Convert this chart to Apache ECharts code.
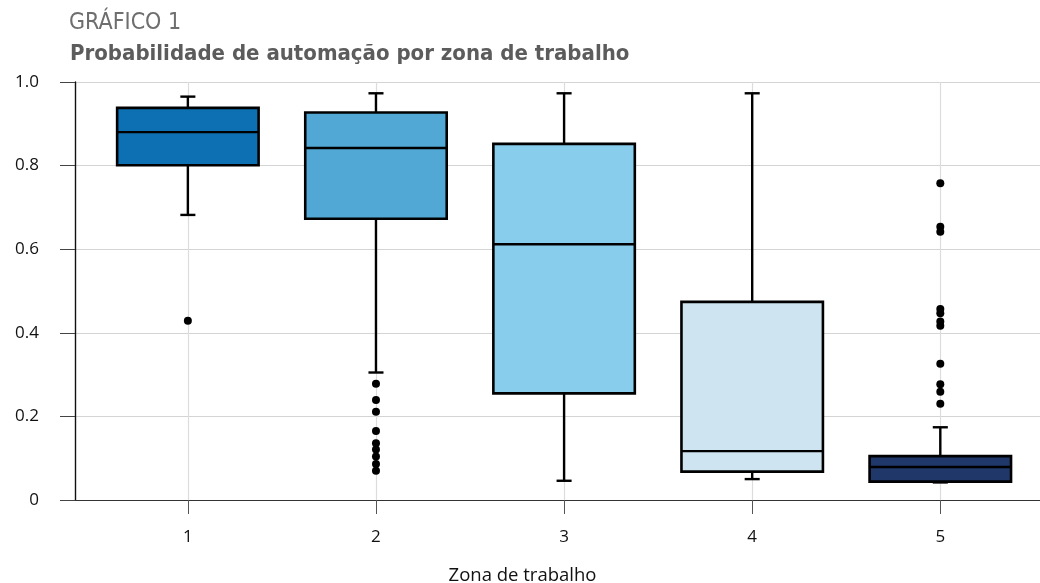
<!DOCTYPE html>
<html>
<head>
<meta charset="utf-8">
<script src="https://cdn.jsdelivr.net/npm/echarts@6/dist/echarts.min.js"></script>
<style>html,body{margin:0;padding:0;background:#fff}#c{width:1040px;height:583px}</style>
</head>
<body>
<div id="c"></div>
<script>
const zones = [1, 2, 3, 4, 5];
const zoneLabels = ['1', '2', '3', '4', '5'];
const lowWhisker = [0.682, 0.305, 0.046, 0.050, 0.042];
const q1 = [0.801, 0.673, 0.255, 0.068, 0.044];
const median = [0.880, 0.842, 0.612, 0.117, 0.079];
const q3 = [0.938, 0.927, 0.852, 0.474, 0.105];
const highWhisker = [0.965, 0.973, 0.973, 0.973, 0.174];
const outliersZone1 = [0.429];
const outliersZone2 = [0.278, 0.239, 0.211, 0.165, 0.136, 0.121, 0.104, 0.086, 0.070];
const outliersZone5 = [0.758, 0.654, 0.642, 0.457, 0.447, 0.427, 0.417, 0.326, 0.277, 0.259, 0.230];
const yTicks = [0, 0.2, 0.4, 0.6, 0.8, 1.0];
const boxColors = ['#0d70b2', '#51a8d5', '#88cdeb', '#cee4f0', '#1f3769'];

const boxData = zones.map((z, i) => [z, lowWhisker[i], q1[i], median[i], q3[i], highWhisker[i]]);
const outlierData = []
  .concat(outliersZone1.map(v => [1, v]))
  .concat(outliersZone2.map(v => [2, v]))
  .concat(outliersZone5.map(v => [5, v]));

function renderBox(params, api) {
  const x = api.value(0);
  const pLow = api.coord([x, api.value(1)]);
  const pQ1 = api.coord([x, api.value(2)]);
  const pMed = api.coord([x, api.value(3)]);
  const pQ3 = api.coord([x, api.value(4)]);
  const pHigh = api.coord([x, api.value(5)]);
  const bw = api.size([0.752, 0])[0];
  const cw = api.size([0.08, 0])[0];
  const cx = pMed[0];
  const lineStyle = { stroke: '#000', lineWidth: 2.4, fill: null };
  return {
    type: 'group',
    children: [
      { type: 'line', shape: { x1: cx, y1: pHigh[1], x2: cx, y2: pQ3[1] }, style: lineStyle },
      { type: 'line', shape: { x1: cx, y1: pLow[1], x2: cx, y2: pQ1[1] }, style: lineStyle },
      { type: 'line', shape: { x1: cx - cw / 2, y1: pHigh[1], x2: cx + cw / 2, y2: pHigh[1] }, style: lineStyle },
      { type: 'line', shape: { x1: cx - cw / 2, y1: pLow[1], x2: cx + cw / 2, y2: pLow[1] }, style: lineStyle },
      { type: 'rect', shape: { x: cx - bw / 2, y: pQ3[1], width: bw, height: pQ1[1] - pQ3[1] },
        style: { fill: boxColors[params.dataIndex], stroke: '#000', lineWidth: 2.6 } },
      { type: 'line', shape: { x1: cx - bw / 2, y1: pMed[1], x2: cx + bw / 2, y2: pMed[1] }, style: lineStyle }
    ]
  };
}

const chart = echarts.init(document.getElementById('c'), null, { renderer: 'canvas' });
chart.setOption({
  animation: false,
  textStyle: { fontFamily: 'Open Sans' },
  title: [
    { text: 'GRÁFICO 1', left: 64, top: 7,
      textStyle: { fontFamily: "'DejaVu Sans Condensed', Roboto", fontWeight: 'normal', fontSize: 23, color: '#6e6e6e' } },
    { text: 'Probabilidade de automação por zona de trabalho', left: 65, top: 38,
      textStyle: { fontFamily: "'DejaVu Sans Condensed', Roboto", fontWeight: 'bold', fontSize: 22, color: '#5c5c5c' } }
  ],
  grid: { left: 75, right: 0, top: 82, bottom: 83, containLabel: false, outerBoundsMode: 'none' },
  xAxis: {
    type: 'value', min: 0.4, max: 5.53,
    name: 'Zona de trabalho', nameLocation: 'middle', nameGap: 66,
    nameTextStyle: { fontFamily: 'Open Sans', fontSize: 18.5, color: '#111', padding: [0, 70, 0, 0] },
    axisLine: { show: true, lineStyle: { color: '#333', width: 1.2 } },
    axisTick: { show: true, length: 14, lineStyle: { color: '#555' }, customValues: zones },
    axisLabel: { customValues: zones, margin: 29, fontSize: 17, color: '#111',
      formatter: v => zoneLabels[Math.round(v) - 1] },
    splitLine: { show: true, lineStyle: { color: '#dcdcdc', width: 1.2 }, customValues: zones }
  },
  yAxis: {
    type: 'value', min: 0, max: 1, interval: 0.2,
    axisLine: { show: true, lineStyle: { color: '#111', width: 1.4 } },
    axisTick: { show: true, length: 15, lineStyle: { color: '#444' } },
    axisLabel: { margin: 36, fontSize: 17, color: '#111',
      formatter: v => (v === 0 ? '0' : v.toFixed(1)) },
    splitLine: { show: true, lineStyle: { color: '#d4d4d4', width: 1.2 } }
  },
  series: [
    { type: 'custom', renderItem: renderBox, data: boxData, encode: { x: 0, y: [1, 2, 3, 4, 5] }, z: 3 },
    { type: 'scatter', data: outlierData, symbolSize: 8, itemStyle: { color: '#000', opacity: 1 }, z: 4 }
  ]
});
</script>
</body>
</html>
